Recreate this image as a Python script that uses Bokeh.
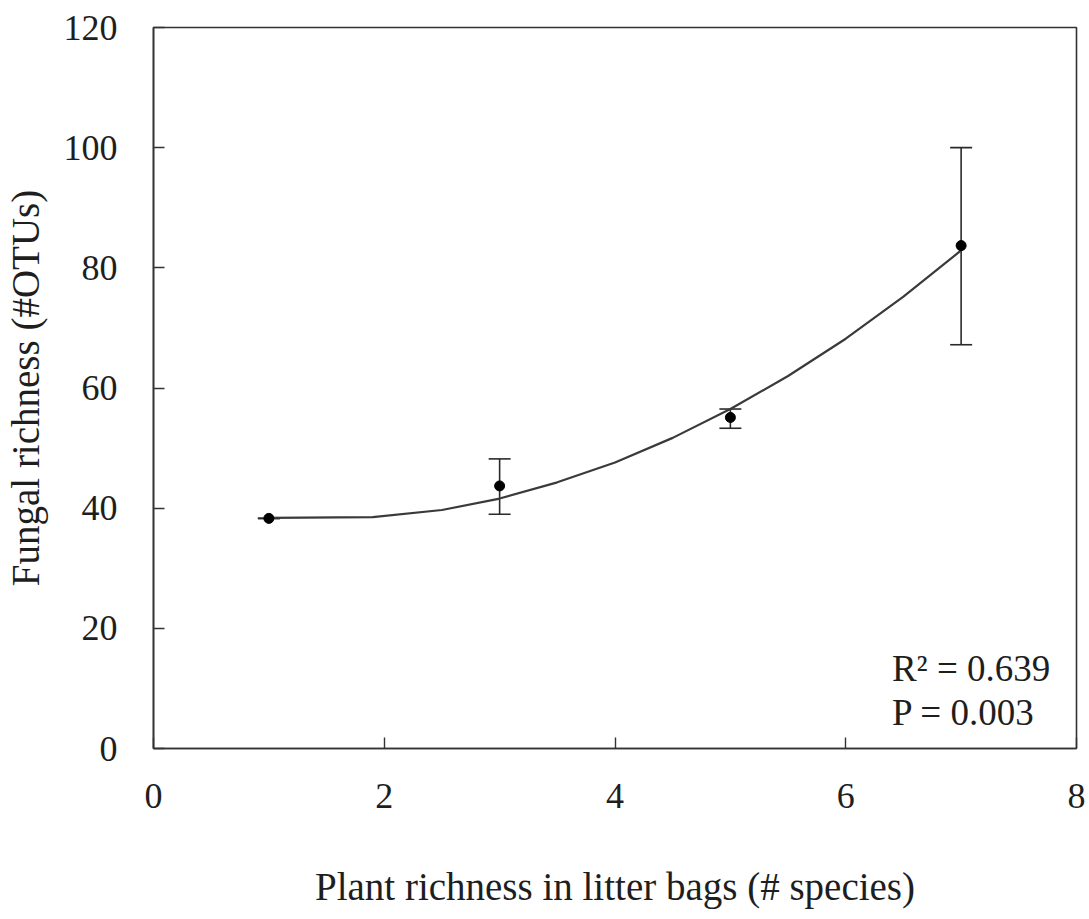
from bokeh.plotting import figure
from bokeh.models import ColumnDataSource, Whisker, TeeHead, Label, FixedTicker, Range1d
from bokeh.embed import file_html
from bokeh.resources import INLINE

# Mean fungal richness per plant-richness level, with error-bar limits
plant_richness = [1, 3, 5, 7]
fungal_mean = [38.3, 43.7, 55.1, 83.7]
err_upper = [38.3, 48.2, 56.5, 100.0]
err_lower = [38.3, 39.0, 53.3, 67.2]

# Fitted trend curve
fit_x = [1.0, 1.9, 2.5, 3.0, 3.5, 4.0, 4.5, 5.0, 5.5, 6.0, 6.5, 7.0]
fit_y = [38.4, 38.5, 39.7, 41.6, 44.3, 47.6, 51.7, 56.5, 62.0, 68.2, 75.2, 82.9]

x_ticks = [0, 2, 4, 6, 8]
y_ticks = [0, 20, 40, 60, 80, 100, 120]

FONT = "Liberation Serif"
INK = "#1e1e1e"

p = figure(width=1089, height=919, output_backend="svg", toolbar_location=None,
           x_range=Range1d(0, 8), y_range=Range1d(0, 120),
           min_border_left=153, min_border_right=13,
           min_border_top=27, min_border_bottom=171)

p.grid.visible = False
p.outline_line_color = "#333333"
p.outline_line_width = 1.6
p.background_fill_color = "white"
p.border_fill_color = "white"

for ax in (p.xaxis[0], p.yaxis[0]):
    ax.axis_line_color = "#333333"
    ax.axis_line_width = 1.6
    ax.major_tick_in = 11
    ax.major_tick_out = 0
    ax.major_tick_line_color = "#333333"
    ax.major_tick_line_width = 1.4
    ax.minor_tick_line_color = None
    ax.major_label_text_font = FONT
    ax.major_label_text_font_size = "36px"
    ax.major_label_text_color = INK
    ax.axis_label_text_font = FONT
    ax.axis_label_text_font_size = "39px"
    ax.axis_label_text_font_style = "normal"
    ax.axis_label_text_color = INK

p.xaxis.ticker = FixedTicker(ticks=x_ticks)
p.yaxis.ticker = FixedTicker(ticks=y_ticks)
p.xaxis.major_label_standoff = 35
p.yaxis.major_label_standoff = 36
p.xaxis.axis_label = "Plant richness in litter bags (# species)"
p.yaxis.axis_label = "Fungal richness (#OTUs)"
p.xaxis.axis_label_standoff = 54
p.yaxis.axis_label_standoff = 14

src = ColumnDataSource(dict(x=plant_richness, y=fungal_mean,
                            upper=err_upper, lower=err_lower))

p.line(fit_x, fit_y, line_color="#3a3a3a", line_width=2.2)

whisker = Whisker(source=src, base="x", upper="upper", lower="lower",
                  line_color="#2a2a2a", line_width=1.6,
                  upper_head=TeeHead(size=22, line_color="#2a2a2a", line_width=1.6),
                  lower_head=TeeHead(size=22, line_color="#2a2a2a", line_width=1.6))
p.add_layout(whisker)

p.scatter("x", "y", source=src, size=10, fill_color="black", line_color="black")

for txt, yy in (("R² = 0.639", 13.3), ("P = 0.003", 6.0)):
    p.add_layout(Label(x=6.4, y=yy, text=txt, text_font=FONT,
                       text_font_size="37px", text_color=INK,
                       text_baseline="alphabetic"))

open("out.html", "w").write(file_html(p, INLINE))
